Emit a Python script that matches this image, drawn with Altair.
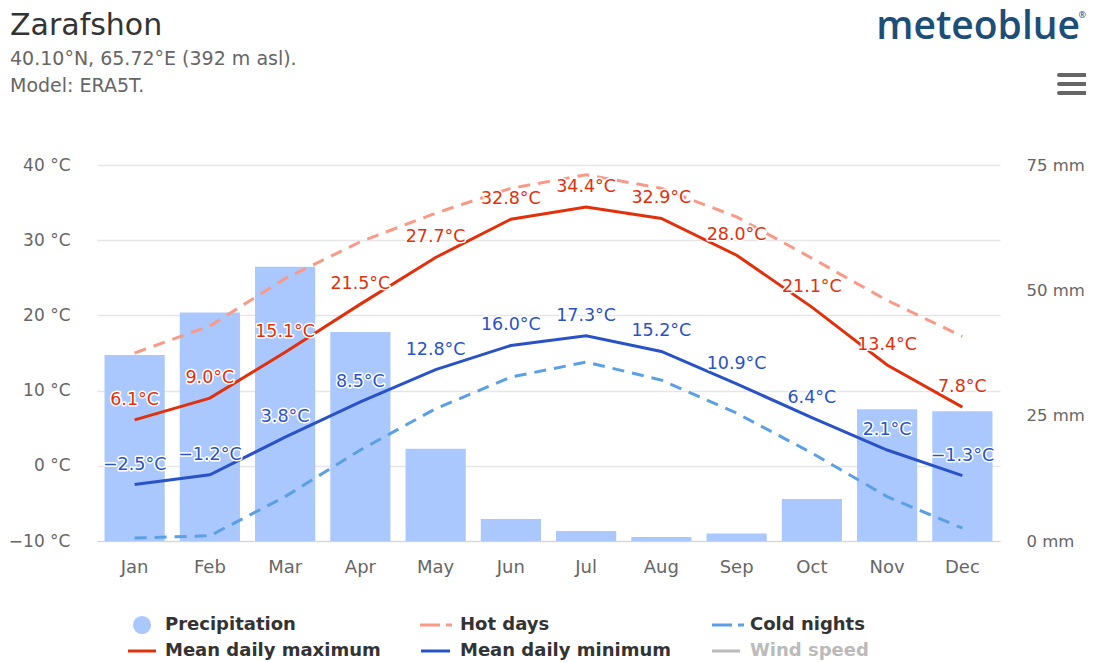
import altair as alt
import pandas as pd

months = ["Jan", "Feb", "Mar", "Apr", "May", "Jun", "Jul", "Aug", "Sep", "Oct", "Nov", "Dec"]
t_max = [6.1, 9.0, 15.1, 21.5, 27.7, 32.8, 34.4, 32.9, 28.0, 21.1, 13.4, 7.8]
t_min = [-2.5, -1.2, 3.8, 8.5, 12.8, 16.0, 17.3, 15.2, 10.9, 6.4, 2.1, -1.3]
hot_days = [15.0, 18.6, 24.9, 29.8, 33.6, 36.9, 38.7, 36.9, 33.1, 27.6, 22.0, 17.2]
cold_nights = [-9.6, -9.3, -4.1, 2.1, 7.6, 11.8, 13.8, 11.4, 7.0, 1.7, -4.1, -8.3]
precip = [37.1, 45.6, 54.7, 41.7, 18.4, 4.4, 2.0, 0.8, 1.5, 8.4, 26.3, 25.9]

temp_ticks = [-10, 0, 10, 20, 30, 40]
precip_ticks = [0, 25, 50, 75]

FONT = "DejaVu Sans"
C_MAX = "#e2300c"
C_MIN = "#2a52c8"
C_HOT = "#f99a88"
C_COLD = "#5ba0e6"
C_BAR = "#aac8fd"


def fmt(v):
    s = f"{abs(v):.1f}°C"
    return ("−" + s) if v < 0 else s


df = pd.DataFrame({
    "month": months,
    "tmax": t_max,
    "tmin": t_min,
    "hot": hot_days,
    "cold": cold_nights,
    "precip": precip,
    "lmax": [fmt(v) for v in t_max],
    "lmin": [fmt(v) for v in t_min],
})

x = alt.X("month:N", sort=months, title=None,
          scale=alt.Scale(paddingInner=0.2, paddingOuter=0.1),
          axis=alt.Axis(labelAngle=0, ticks=False, domain=True, domainColor="#ccd6eb",
                        domainWidth=1, labelPadding=17, labelFontSize=18, labelColor="#666666",
                        labelFont=FONT, grid=False))

tscale = alt.Scale(domain=[-10, 40], nice=False, zero=False)

base = alt.Chart(df)

bars = base.mark_bar(color=C_BAR).encode(
    x=x,
    y=alt.Y("precip:Q", title=None,
            scale=alt.Scale(domain=[0, 75], nice=False),
            axis=alt.Axis(orient="right", values=precip_ticks, labelExpr="datum.value + ' mm'",
                          grid=False, ticks=False, domain=False, labelPadding=26,
                          labelAlign="left", labelFontSize=16.5, labelColor="#666666", labelFont=FONT)),
)

ty_axis = alt.Axis(orient="left", values=temp_ticks,
                   labelExpr="(datum.value < 0 ? '−' + abs(datum.value) : datum.value) + ' °C'",
                   grid=True, gridColor="#e6e6e6", gridWidth=1.5, ticks=False, domain=False,
                   labelPadding=27, labelFontSize=17, labelColor="#666666", labelFont=FONT)


def tline(field, color, dash=None):
    kw = dict(color=color, strokeWidth=3)
    if dash:
        kw["strokeDash"] = dash
    y = alt.Y(f"{field}:Q", title=None, scale=tscale, axis=ty_axis)
    return base.mark_line(**kw).encode(x=x, y=y)


l_hot = tline("hot", C_HOT, [12, 8])
l_cold = tline("cold", C_COLD, [12, 8])
l_max = tline("tmax", C_MAX)
l_min = tline("tmin", C_MIN)


def tlabels(field, lab, color):
    y = alt.Y(f"{field}:Q", title=None, scale=tscale, axis=ty_axis)
    halo = base.mark_text(font=FONT, fontSize=17.5, dy=-20, baseline="middle", stroke="white",
                          strokeWidth=3, strokeJoin="round", color="white").encode(
        x=x, y=y, text=f"{lab}:N")
    fg = base.mark_text(font=FONT, fontSize=17.5, dy=-20, baseline="middle", color=color).encode(
        x=x, y=y, text=f"{lab}:N")
    return halo + fg


one = pd.DataFrame({"k": [0]})


def txt(s, xv, yv, size, color, align="left", weight="normal", font=FONT, baseline="alphabetic"):
    return alt.Chart(one).mark_text(text=s, align=align, baseline=baseline, fontSize=size,
                                    color=color, font=font, fontWeight=weight).encode(
        x=alt.value(xv), y=alt.value(yv))


def seg(x1, x2, yv, color, dash=None, width=3, cap="butt"):
    kw = dict(color=color, strokeWidth=width, strokeCap=cap)
    if dash:
        kw["strokeDash"] = dash
    return alt.Chart(one).mark_rule(**kw).encode(x=alt.value(x1), x2=alt.value(x2), y=alt.value(yv))


deco = [
    txt("Zarafshon", -87, -130, 30, "#333333"),
    txt("40.10°N, 65.72°E (392 m asl).", -87, -100, 19, "#666666"),
    txt("Model: ERA5T.", -87, -73, 19, "#666666"),
    txt("meteoblue", 983, -126, 39, "#1c4e78", align="right", weight=600, font="Open Sans"),
    txt("®", 989, -147, 9, "#1c4e78", align="right", font="Noto Sans"),
    seg(962, 988, -90, "#666666", width=4, cap="round"),
    seg(962, 988, -81, "#666666", width=4, cap="round"),
    seg(962, 988, -72, "#666666", width=4, cap="round"),
    # legend
    alt.Chart(one).mark_point(filled=True, shape="circle", size=330, color=C_BAR, opacity=1).encode(
        x=alt.value(45), y=alt.value(460)),
    txt("Precipitation", 68, 460, 18, "#333333", baseline="middle", weight="bold"),
    seg(323, 355, 460, C_HOT, dash=[20, 6]),
    txt("Hot days", 363, 460, 18, "#333333", baseline="middle", weight="bold"),
    seg(615, 647, 460, C_COLD, dash=[20, 6]),
    txt("Cold nights", 653, 460, 18, "#333333", baseline="middle", weight="bold"),
    seg(31, 59, 486, C_MAX),
    txt("Mean daily maximum", 68, 486, 18, "#333333", baseline="middle", weight="bold"),
    seg(324, 353, 486, C_MIN),
    txt("Mean daily minimum", 363, 486, 18, "#333333", baseline="middle", weight="bold"),
    seg(615, 643, 486, "#bbbbbb"),
    txt("Wind speed", 653, 486, 18, "#bbbbbb", baseline="middle", weight="bold"),
]

temps = alt.layer(l_hot, l_cold, l_max, l_min,
                  tlabels("tmax", "lmax", C_MAX), tlabels("tmin", "lmin", C_MIN), *deco)

chart = alt.layer(bars, temps).resolve_scale(y="independent").properties(
    width=903, height=376,
    autosize=alt.AutoSizeParams(type="none"),
    padding={"left": 89, "top": 157, "right": 86, "bottom": 121},
    background="white",
).configure_view(stroke=None)

chart.save("out.html", embed_options={"renderer": "svg", "actions": False})
